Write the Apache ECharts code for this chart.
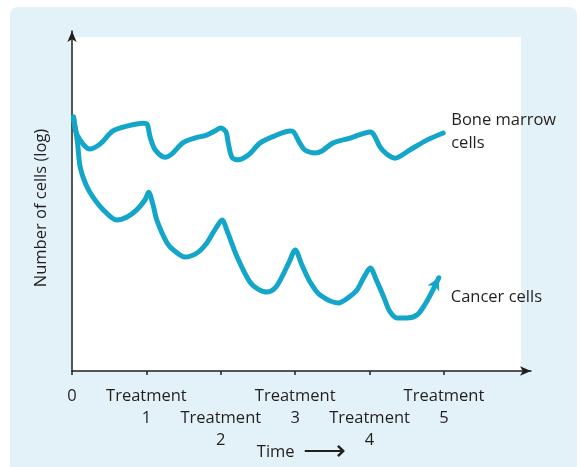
<!DOCTYPE html>
<html>
<head>
<meta charset="utf-8">
<script src="https://cdn.jsdelivr.net/npm/echarts@6/dist/echarts.min.js"></script>
<style>
  html, body { margin: 0; padding: 0; background: #fff; }
  #chart { width: 580px; height: 467px; }
</style>
</head>
<body>
<div id="chart"></div>
<script>
// time in treatment cycles, level in arbitrary log units
const boneTime = [0.02, 0.07, 0.24, 0.38, 0.55, 0.75, 0.95, 1.01, 1.05, 1.12, 1.25, 1.34, 1.49, 1.65, 1.81, 1.92, 2.00, 2.07, 2.10, 2.15, 2.23, 2.37, 2.53, 2.72, 2.93, 2.98, 3.06, 3.13, 3.27, 3.36, 3.51, 3.74, 4.01, 4.06, 4.14, 4.23, 4.34, 4.54, 4.77, 4.99]
const boneLevel = [74.7, 69.4, 65.3, 66.8, 70.6, 72.1, 72.9, 72.6, 68.8, 65.0, 62.9, 63.8, 67.1, 68.5, 69.4, 70.6, 71.5, 70.3, 67.1, 62.9, 62.1, 63.5, 67.1, 69.1, 70.6, 70.3, 67.1, 65.0, 64.1, 64.7, 67.1, 68.5, 70.3, 69.4, 65.9, 63.8, 62.6, 65.0, 67.9, 70.0]

const cancerTime = [0.02, 0.07, 0.11, 0.19, 0.28, 0.42, 0.60, 0.74, 0.87, 0.98, 1.03, 1.09, 1.14, 1.28, 1.38, 1.52, 1.68, 1.81, 1.92, 2.02, 2.08, 2.22, 2.39, 2.50, 2.62, 2.73, 2.82, 2.92, 3.00, 3.09, 3.20, 3.33, 3.58, 3.71, 3.83, 3.92, 4.01, 4.09, 4.19, 4.27, 4.37, 4.50, 4.64, 4.74, 4.85, 4.93]
const cancerLevel = [74.7, 67.9, 60.0, 54.7, 51.2, 47.4, 44.4, 45.3, 47.4, 50.3, 52.6, 48.8, 44.4, 37.6, 35.3, 33.5, 34.7, 37.6, 41.5, 44.4, 41.5, 33.5, 26.2, 24.1, 23.2, 24.4, 27.6, 32.1, 35.6, 31.2, 26.2, 22.4, 20.0, 21.5, 23.8, 27.4, 30.3, 26.8, 21.8, 17.6, 15.6, 15.6, 16.5, 19.4, 23.8, 27.4]

const tickValues = [0, 1, 2, 3, 4, 5]
// labels are staggered over two rows
const upperTicks = [0, 1, 3, 5]
const lowerTicks = [2, 4]
const tickLabels = ['0', 'Treatment\n1', 'Treatment\n2', 'Treatment\n3', 'Treatment\n4', 'Treatment\n5']

const lineColor = '#14a6c9'
const textColor = '#231f20'
const font = '"Open Sans", sans-serif'
const fs = 16.5

const chart = echarts.init(document.getElementById('chart'))

const pairs = (xs, ys) => xs.map((x, i) => [x, ys[i]])
const cancerData = pairs(cancerTime, cancerLevel)
const last = cancerData.pop()
cancerData.push({ value: last, symbol: 'arrow', symbolSize: [10, 12], symbolRotate: -27, itemStyle: { color: lineColor } })

const labelStyle = { fontSize: fs, lineHeight: 22, color: textColor, fontFamily: font, hideOverlap: false, formatter: v => tickLabels[v] }

chart.setOption({
  animation: false,
  textStyle: { fontFamily: font, color: textColor },
  graphic: [
    { type: 'rect', z: -20, silent: true, shape: { x: 10, y: 7, width: 567, height: 480, r: 8 }, style: { fill: '#e2f2f8' } },
    { type: 'rect', z: -19, silent: true, shape: { x: 72, y: 37, width: 449, height: 334 }, style: { fill: '#ffffff' } }
  ],
  grid: { left: 72, right: 49, top: 31, bottom: 96, outerBoundsMode: 'none', containLabel: false },
  xAxis: [
    {
      type: 'value', min: 0, max: 6.17, position: 'bottom',
      name: '{t|Time}  {a|⟶}', nameLocation: 'middle', nameGap: 70, nameMoveOverlap: false,
      nameTextStyle: {
        fontSize: fs, color: textColor, fontFamily: font, lineHeight: 22,
        rich: {
          t: { fontSize: fs, fontFamily: font, color: textColor, lineHeight: 22 },
          a: { fontSize: 30, fontFamily: '"DejaVu Sans ExtraLight", "DejaVu Sans"', fontWeight: 200, color: textColor, lineHeight: 22 }
        }
      },
      splitLine: { show: false },
      axisLine: { show: true, lineStyle: { color: '#231f20', width: 1.5 }, symbol: ['none', 'arrow'], symbolSize: [7, 11] },
      axisTick: { show: true, customValues: tickValues, length: 4, lineStyle: { color: '#231f20', width: 1.5 } },
      axisLabel: Object.assign({ customValues: upperTicks, margin: 14, showMinLabel: true, showMaxLabel: true }, labelStyle)
    },
    {
      type: 'value', min: 0, max: 6.17, position: 'bottom',
      splitLine: { show: false },
      axisLine: { show: false },
      axisTick: { show: false },
      axisLabel: Object.assign({ customValues: lowerTicks, margin: 36, showMinLabel: true, showMaxLabel: true }, labelStyle)
    }
  ],
  yAxis: {
    type: 'value', min: 0, max: 100,
    name: 'Number of cells (log)', nameLocation: 'middle', nameGap: 22, nameRotate: 90,
    nameTextStyle: { fontSize: fs, color: textColor, fontFamily: font, padding: [0, 14, 0, 0] },
    splitLine: { show: false },
    axisLine: { show: true, lineStyle: { color: '#231f20', width: 1.5 }, symbol: ['none', 'arrow'], symbolSize: [7, 11] },
    axisTick: { show: false },
    axisLabel: { show: false }
  },
  series: [
    {
      name: 'Bone marrow\ncells', type: 'line', smooth: 0.3, symbol: 'none',
      lineStyle: { color: lineColor, width: 5, cap: 'round', join: 'round' },
      data: pairs(boneTime, boneLevel),
      endLabel: { show: true, formatter: '{a}', distance: 8, offset: [0, -1], fontSize: fs, lineHeight: 23, color: textColor, fontFamily: font, align: 'left' }
    },
    {
      name: 'Cancer cells', type: 'line', smooth: 0.3, symbol: 'none', showSymbol: true,
      lineStyle: { color: lineColor, width: 5, cap: 'round', join: 'round' },
      data: cancerData,
      endLabel: { show: true, formatter: '{a}', distance: 8, offset: [4, 19], fontSize: fs, color: textColor, fontFamily: font }
    }
  ]
})
</script>
</body>
</html>
